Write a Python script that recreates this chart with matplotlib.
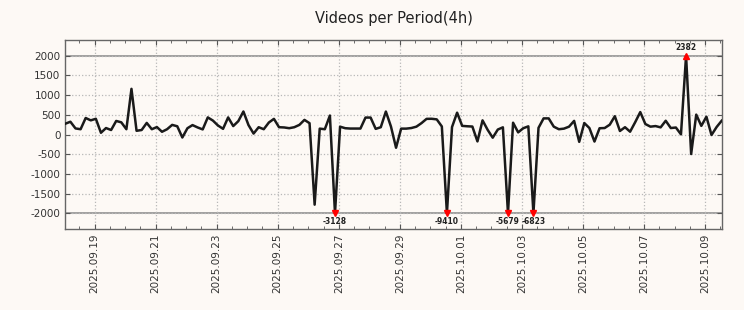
import numpy as np
import pandas as pd
import matplotlib
matplotlib.use("Agg")
import matplotlib.pyplot as plt
import matplotlib.dates as mdates

plt.rcParams['axes.unicode_minus'] = False

start_time = "2025-09-18 01:00"
freq = "4h"
values = [
    275, 325, 155, 135, 420, 360, 400, 45, 165, 115,
    345, 310, 135, 1160, 95, 115, 295, 135, 190, 70,
    135, 245, 210, -75, 160, 240, 180, 130, 435, 355,
    230, 145, 435, 215, 340, 585, 240, 25, 186, 135,
    305, 398, 186, 180, 161, 186, 245, 372, 288, -1780,
    150, 135, 482, -3128, 200, 161, 152, 152, 152, 431,
    431, 144, 186, 584, 203, -335, 150, 150, 165, 200,
    290, 398, 400, 385, 205, -9410, 190, 555, 220, 210,
    203, -175, 360, 120, -80, 127, 183, -5679, 300, 55,
    160, 208, -6823, 170, 410, 410, 200, 135, 150, 200,
    347, -185, 292, 165, -178, 160, 165, 250, 465, 90,
    186, 72, 313, 570, 267, 200, 215, 182, 350, 165,
    178, 5, 2382, -495, 505, 220, 453, -12, 190, 350,
]
clip_limit = 2000
y_ticks = [-2000, -1500, -1000, -500, 0, 500, 1000, 1500, 2000]
x_tick_dates = ["2025-09-19", "2025-09-21", "2025-09-23", "2025-09-25",
                "2025-09-27", "2025-09-29", "2025-10-01", "2025-10-03",
                "2025-10-05", "2025-10-07", "2025-10-09"]
title = "Videos per Period(4h)"

times = pd.date_range(start=start_time, periods=len(values), freq=freq)
vals = np.array(values, dtype=float)
clipped = np.clip(vals, -clip_limit, clip_limit)

bg = "#fdf9f5"
fig = plt.figure(figsize=(7.44, 3.10), dpi=100, facecolor=bg)
ax = fig.add_axes([0.0878, 0.261, 0.8822, 0.610])
ax.set_facecolor(bg)

ax.axhline(clip_limit, color="#888888", lw=1.1, zorder=1)
ax.axhline(-clip_limit, color="#888888", lw=1.1, zorder=1)
ax.plot(times, clipped, color="#1a1a1a", lw=1.8, zorder=3)

ann_font = dict(fontsize=6, color="#222222", family="DejaVu Sans",
                fontstretch="condensed", fontweight="bold")
for t, v in zip(times, vals):
    if v > clip_limit:
        ax.plot([t], [clip_limit], marker="^", color="red", ms=5, zorder=4)
        ax.annotate(f"{int(v)}", (t, clip_limit), xytext=(0, 2.5), textcoords="offset points",
                    ha="center", va="bottom", **ann_font)
    elif v < -clip_limit:
        ax.plot([t], [-clip_limit], marker="v", color="red", ms=5, zorder=4)
        ax.annotate(f"{int(v)}", (t, -clip_limit), xytext=(0, -3), textcoords="offset points",
                    ha="center", va="top", **ann_font)

ax.set_xlim(times[0], times[-1])
ax.set_ylim(-2400, 2400)
ax.set_yticks(y_ticks)
ax.xaxis.set_major_locator(matplotlib.ticker.FixedLocator(mdates.date2num(pd.to_datetime(x_tick_dates))))
ax.xaxis.set_major_formatter(mdates.DateFormatter("%Y.%m.%d"))
ax.xaxis.set_minor_locator(mdates.HourLocator(byhour=[0, 12]))
ax.grid(True, which="major", linestyle=":", color="#b8b8b8", lw=0.9)
ax.tick_params(axis="both", which="both", direction="in", top=True, right=True,
               colors="#555555", labelcolor="#333333", labelsize=7.5)
ax.tick_params(axis="both", which="major", length=3.5, width=0.8)
ax.tick_params(axis="x", which="minor", length=2, width=0.6)
for lbl in ax.get_xticklabels():
    lbl.set_rotation(90)
for s in ax.spines.values():
    s.set_color("#666666")
    s.set_linewidth(1.0)

ax.set_title(title, fontsize=10.5, color="#222222", pad=12)
fig.savefig("out.png", dpi=100, facecolor=bg)
